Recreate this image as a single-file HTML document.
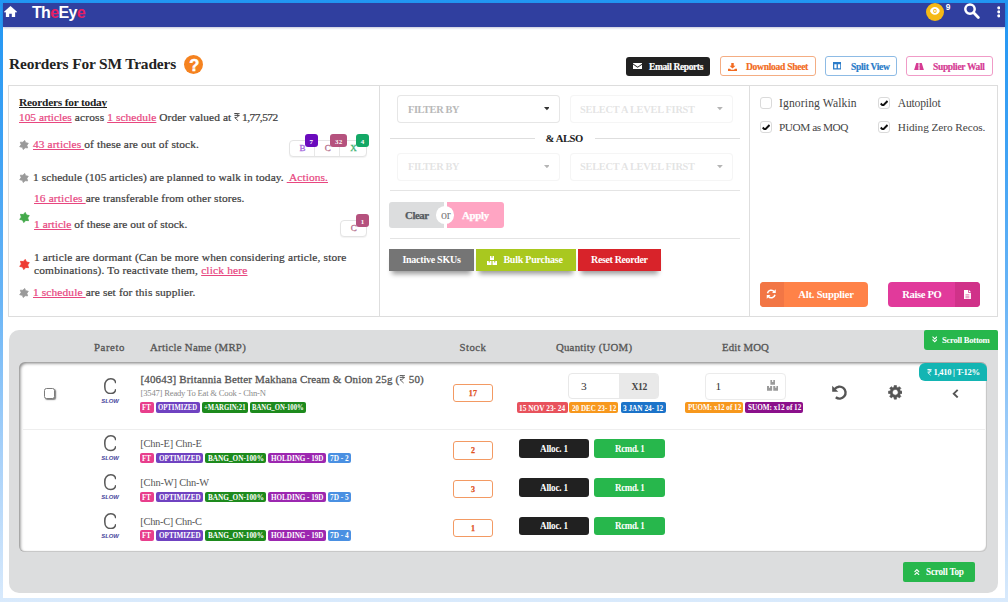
<!DOCTYPE html>
<html><head><meta charset="utf-8"><title>Reorders</title>
<style>
html,body{margin:0;padding:0;}
body{width:1008px;height:602px;overflow:hidden;position:relative;background:linear-gradient(180deg,#2196f3 0%,#3fa2f4 25%,#6ab5f6 50%,#a6d0f9 75%,#d9eafc 100%);font-family:'Liberation Serif', serif;}
#pg{position:absolute;left:3px;top:3px;width:1002px;height:595.5px;background:#fff;overflow:hidden}
#pg>div,#pg>svg{position:absolute;box-sizing:border-box}
.t{position:absolute;white-space:pre;line-height:normal}
.t u{text-decoration:underline;text-decoration-thickness:.9px;text-underline-offset:.6px;text-decoration-skip-ink:none}
.t svg{display:inline-block;position:static}
svg{display:block}
</style></head><body><div id="pg" style="left:0;top:0;width:1008px;height:602px;background:none">
<div style="left:3px;top:3px;width:1002px;height:595px;background:#fff"></div>
<div style="left:3.00px;top:3.00px;width:1002.00px;height:24.00px;background:#303f9f;box-shadow:0 1px 2px rgba(40,50,120,.28)"></div>
<svg style="left:3.80px;top:5.70px;" width="13.00" height="11.80" viewBox="0 0 25 22" preserveAspectRatio="none"><path fill="#fff" d="M12.5 0 L0 10.8 L1.2 12.2 L3.6 11.6 V22 H10 V14.5 H15 V22 H21.4 V11.6 L23.8 12.2 L25 10.8 Z"/></svg>
<div style="left:926.00px;top:2.50px;width:18.40px;height:18.50px;background:#f5b916;border-radius:50%"></div>
<svg style="left:930.20px;top:7.00px;" width="9.80" height="7.80" viewBox="0 0 24 16" preserveAspectRatio="none"><path fill="#fff" d="M12 0C6.5 0 2 3.4 0 8c2 4.6 6.5 8 12 8s10-3.4 12-8C22 3.4 17.5 0 12 0z"/><circle cx="12" cy="8" r="4.3" fill="#f5b916"/><circle cx="12" cy="8" r="2.3" fill="#fff" opacity=".85"/></svg>
<svg style="left:964.30px;top:3.10px;" width="16.00" height="16.00" viewBox="0 0 32 32" preserveAspectRatio="none"><circle cx="12" cy="12.2" r="9.4" fill="none" stroke="#fff" stroke-width="5"/><path d="M19.5 19.7 L28.6 28.8" stroke="#fff" stroke-width="5.6" stroke-linecap="round"/></svg>
<svg style="left:996.60px;top:6.10px;" width="3.60" height="3.60" viewBox="0 0 10 10" preserveAspectRatio="none"><circle cx="5" cy="5" r="4.4" fill="#fff"/></svg>
<svg style="left:996.60px;top:10.10px;" width="3.60" height="3.60" viewBox="0 0 10 10" preserveAspectRatio="none"><circle cx="5" cy="5" r="4.4" fill="#fff"/></svg>
<svg style="left:996.60px;top:14.10px;" width="3.60" height="3.60" viewBox="0 0 10 10" preserveAspectRatio="none"><circle cx="5" cy="5" r="4.4" fill="#fff"/></svg>
<div style="left:184.00px;top:55.00px;width:19.00px;height:19.00px;background:#f5821f;border-radius:50%"></div>
<div style="left:626.00px;top:57.00px;width:84.30px;height:18.60px;background:#212121;border-radius:3px"></div>
<svg style="left:633.00px;top:63.00px;" width="9.20" height="6.30" viewBox="0 0 20 14" preserveAspectRatio="none"><path fill="#fff" d="M0 1.2 V0 H20 V1.2 L10 8.4 Z M0 3.4 L10 10.8 L20 3.4 V14 H0 Z"/></svg>
<div style="left:720.00px;top:56.00px;width:96.00px;height:20.00px;border:1px solid #f4ad83;border-radius:3px;background:#fff"></div>
<svg style="left:727.60px;top:62.50px;" width="9.00" height="8.00" viewBox="0 0 18 16" preserveAspectRatio="none"><path fill="#f26b21" d="M6.5 0 H11.5 V5.5 H15 L9 11.2 L3 5.5 H6.5 Z M0 11.5 H4 L6 13.5 H12 L14 11.5 H18 V16 H0 Z"/></svg>
<div style="left:825.00px;top:56.00px;width:72.00px;height:20.00px;border:1px solid #8dbbe5;border-radius:3px;background:#fff"></div>
<svg style="left:832.80px;top:62.30px;" width="8.50" height="7.60" viewBox="0 0 17 14" preserveAspectRatio="none"><path fill="#2b7cc9" fill-rule="evenodd" d="M0 0 H17 V14 H0 Z M2.6 4 V11.4 H7.2 V4 Z M9.8 4 V11.4 H14.4 V4 Z"/></svg>
<div style="left:906.00px;top:56.00px;width:87.00px;height:20.00px;border:1px solid #f09bc7;border-radius:3px;background:#fff"></div>
<svg style="left:914.00px;top:62.60px;" width="10.00" height="7.40" viewBox="0 0 20 14" preserveAspectRatio="none"><path fill="#d63a93" d="M4.5 0 H8.8 V14 H0 Z M11.2 0 H15.5 L20 14 H11.2 Z"/><path d="M10 0 V3 M10 5.5 V8.5 M10 11 V14" stroke="#d63a93" stroke-width="1.1"/></svg>
<div style="left:8.00px;top:85.00px;width:990.00px;height:232.00px;border:1px solid #dddddd;background:#fff"></div>
<div style="left:379.00px;top:85.00px;width:1.00px;height:231.50px;background:#dedede"></div>
<div style="left:749.00px;top:85.00px;width:1.00px;height:231.50px;background:#dedede"></div>
<svg style="left:234.20px;top:112.60px;" width="6.00" height="8.10" viewBox="0 0 10 13.5" preserveAspectRatio="none"><path d="M0.8 1 H9.4 M0.8 4.3 H9.4 M0.8 1 H3.6 C7.8 1 7.8 7.7 3.6 7.7 H1.2 L7.2 13.3" fill="none" stroke="#3d3d3d" stroke-width="1.5"/></svg>
<svg style="left:18.50px;top:139.50px;" width="10.00" height="10.00" viewBox="0 0 24 24" preserveAspectRatio="none"><path d="M13.56 0.91 L16.31 6.48 L22.38 7.80 L18.93 12.97 L20.83 18.90 L14.62 18.49 L10.44 23.09 L7.69 17.52 L1.62 16.20 L5.07 11.03 L3.17 5.10 L9.38 5.51 Z" fill="#9a9a9a" stroke="#9a9a9a" stroke-width="1.8" stroke-linejoin="round"/></svg>
<svg style="left:18.50px;top:172.50px;" width="10.00" height="10.00" viewBox="0 0 24 24" preserveAspectRatio="none"><path d="M13.56 0.91 L16.31 6.48 L22.38 7.80 L18.93 12.97 L20.83 18.90 L14.62 18.49 L10.44 23.09 L7.69 17.52 L1.62 16.20 L5.07 11.03 L3.17 5.10 L9.38 5.51 Z" fill="#9a9a9a" stroke="#9a9a9a" stroke-width="1.8" stroke-linejoin="round"/></svg>
<svg style="left:18.50px;top:211.50px;" width="11.00" height="11.00" viewBox="0 0 24 24" preserveAspectRatio="none"><path d="M13.56 0.91 L16.31 6.48 L22.38 7.80 L18.93 12.97 L20.83 18.90 L14.62 18.49 L10.44 23.09 L7.69 17.52 L1.62 16.20 L5.07 11.03 L3.17 5.10 L9.38 5.51 Z" fill="#43a94a" stroke="#43a94a" stroke-width="1.8" stroke-linejoin="round"/></svg>
<svg style="left:18.50px;top:258.50px;" width="11.00" height="11.00" viewBox="0 0 24 24" preserveAspectRatio="none"><path d="M13.56 0.91 L16.31 6.48 L22.38 7.80 L18.93 12.97 L20.83 18.90 L14.62 18.49 L10.44 23.09 L7.69 17.52 L1.62 16.20 L5.07 11.03 L3.17 5.10 L9.38 5.51 Z" fill="#ee3b33" stroke="#ee3b33" stroke-width="1.8" stroke-linejoin="round"/></svg>
<svg style="left:18.50px;top:287.50px;" width="10.00" height="10.00" viewBox="0 0 24 24" preserveAspectRatio="none"><path d="M13.56 0.91 L16.31 6.48 L22.38 7.80 L18.93 12.97 L20.83 18.90 L14.62 18.49 L10.44 23.09 L7.69 17.52 L1.62 16.20 L5.07 11.03 L3.17 5.10 L9.38 5.51 Z" fill="#9a9a9a" stroke="#9a9a9a" stroke-width="1.8" stroke-linejoin="round"/></svg>
<div style="left:289.00px;top:140.00px;width:78.00px;height:17.00px;border:1px solid #e4e4e4;border-radius:4px;background:#fff;box-shadow:0 1px 1px rgba(0,0,0,.05)"></div>
<div style="left:314.00px;top:141.00px;width:1.00px;height:15.00px;background:#e8e8e8"></div>
<div style="left:339.00px;top:141.00px;width:1.00px;height:15.00px;background:#e8e8e8"></div>
<div style="left:305.00px;top:134.00px;width:13.00px;height:13.00px;background:#6a0bbd;border-radius:3px"></div>
<div style="left:330.00px;top:134.00px;width:17.00px;height:13.00px;background:#b5527e;border-radius:3px"></div>
<div style="left:356.00px;top:134.00px;width:13.00px;height:13.00px;background:#14a866;border-radius:3px"></div>
<div style="left:340.00px;top:220.00px;width:27.00px;height:17.00px;border:1px solid #e4e4e4;border-radius:4px;background:#fff;box-shadow:0 1px 1px rgba(0,0,0,.05)"></div>
<div style="left:356.00px;top:214.00px;width:13.00px;height:13.00px;background:#b5527e;border-radius:3px"></div>
<div style="left:397.00px;top:95.00px;width:162.50px;height:27.60px;border:1px solid rgba(34,36,38,0.115);border-radius:4px;background:#fff"></div>
<svg style="left:543.50px;top:107.40px;" width="5.80" height="3.20" viewBox="0 0 10 5.5" preserveAspectRatio="none"><path d="M0 0 H10 L5 5.5 Z" fill="#333"/></svg>
<div style="left:570.00px;top:95.00px;width:162.80px;height:27.60px;border:1px solid rgba(34,36,38,0.046);border-radius:4px;background:#fff"></div>
<svg style="left:716.80px;top:107.40px;" width="5.80" height="3.20" viewBox="0 0 10 5.5" preserveAspectRatio="none"><path d="M0 0 H10 L5 5.5 Z" fill="#b5b5b5"/></svg>
<div style="left:397.00px;top:153.00px;width:162.50px;height:27.60px;border:1px solid rgba(34,36,38,0.046);border-radius:4px;background:#fff"></div>
<svg style="left:543.50px;top:164.60px;" width="5.80" height="3.20" viewBox="0 0 10 5.5" preserveAspectRatio="none"><path d="M0 0 H10 L5 5.5 Z" fill="#b5b5b5"/></svg>
<div style="left:570.00px;top:153.00px;width:162.80px;height:27.60px;border:1px solid rgba(34,36,38,0.046);border-radius:4px;background:#fff"></div>
<svg style="left:716.80px;top:164.60px;" width="5.80" height="3.20" viewBox="0 0 10 5.5" preserveAspectRatio="none"><path d="M0 0 H10 L5 5.5 Z" fill="#b5b5b5"/></svg>
<div style="left:389.50px;top:138.00px;width:145.50px;height:1.00px;background:#dedede"></div>
<div style="left:594.50px;top:138.00px;width:145.50px;height:1.00px;background:#dedede"></div>
<div style="left:389.50px;top:190.30px;width:350.50px;height:1.00px;background:#e4e4e4"></div>
<div style="left:389.50px;top:238.00px;width:350.50px;height:1.00px;background:#e4e4e4"></div>
<div style="left:389.00px;top:202.00px;width:56.00px;height:26.00px;background:#dcddde;border-radius:3px 0 0 3px"></div>
<div style="left:445.00px;top:202.00px;width:59.00px;height:26.00px;background:#ffa5c3;border-radius:0 3px 3px 0"></div>
<div style="left:444.30px;top:202.00px;width:2.60px;height:26.00px;background:#fff"></div>
<div style="left:436.40px;top:206.30px;width:17.70px;height:17.50px;background:#fff;border-radius:50%"></div>
<div style="left:389.00px;top:249.00px;width:84.70px;height:21.70px;background:#757575;box-shadow:0 6px 5px -3px rgba(0,0,0,.4)"></div>
<div style="left:476.00px;top:249.00px;width:100.00px;height:21.70px;background:#a9c81f;box-shadow:0 6px 5px -3px rgba(0,0,0,.4)"></div>
<svg style="left:487.00px;top:255.50px;" width="10.00" height="9.00" viewBox="0 0 20 18" preserveAspectRatio="none"><path fill="#fff" d="M6 0 H14 V8 H6 Z M0 10 H9 V18 H0 Z M11 10 H20 V18 H11 Z"/><path d="M10 0 V3.5 M4.5 10 V13 M15.5 10 V13" stroke="#a9c81f" stroke-width="2"/></svg>
<div style="left:578.20px;top:249.00px;width:82.80px;height:21.70px;background:#d8232a;box-shadow:0 6px 5px -3px rgba(0,0,0,.4)"></div>
<div style="left:759.80px;top:97.00px;width:11.80px;height:11.80px;border:1px solid #dadada;border-radius:3px;background:#fff"></div>
<div style="left:878.30px;top:97.00px;width:11.80px;height:11.80px;border:1px solid #dadada;border-radius:3px;background:#fff"></div>
<svg style="left:880.20px;top:99.50px;" width="8.20" height="6.80" viewBox="0 0 14 11" preserveAspectRatio="none"><path d="M1.2 5.6 L5 9.2 L12.8 1.6" fill="none" stroke="#111" stroke-width="3.3"/></svg>
<div style="left:759.80px;top:121.00px;width:11.80px;height:11.80px;border:1px solid #dadada;border-radius:3px;background:#fff"></div>
<svg style="left:761.70px;top:123.50px;" width="8.20" height="6.80" viewBox="0 0 14 11" preserveAspectRatio="none"><path d="M1.2 5.6 L5 9.2 L12.8 1.6" fill="none" stroke="#111" stroke-width="3.3"/></svg>
<div style="left:878.30px;top:121.00px;width:11.80px;height:11.80px;border:1px solid #dadada;border-radius:3px;background:#fff"></div>
<svg style="left:880.20px;top:123.50px;" width="8.20" height="6.80" viewBox="0 0 14 11" preserveAspectRatio="none"><path d="M1.2 5.6 L5 9.2 L12.8 1.6" fill="none" stroke="#111" stroke-width="3.3"/></svg>
<div style="left:760.00px;top:282.40px;width:108.00px;height:24.20px;background:#ff8248;border-radius:4px"></div>
<div style="left:760.00px;top:282.40px;width:24.00px;height:24.20px;background:#f27645;border-radius:4px 0 0 4px"></div>
<svg style="left:766.30px;top:289.10px;" width="10.50" height="10.00" viewBox="0 0 21 20" preserveAspectRatio="none"><path fill="none" stroke="#fff" stroke-width="3" d="M3 8.5 A7.5 7.5 0 0 1 16.5 5.5 M18 11.5 A7.5 7.5 0 0 1 4.5 14.5"/><path fill="#fff" d="M19.5 0.5 V8 H12 Z M1.5 19.5 V12 H9 Z"/></svg>
<div style="left:888.00px;top:282.40px;width:91.60px;height:24.20px;background:#e13a9b;border-radius:4px"></div>
<div style="left:955.00px;top:282.40px;width:24.60px;height:24.20px;background:#d03289;border-radius:0 4px 4px 0"></div>
<svg style="left:963.80px;top:289.50px;" width="6.90" height="9.50" viewBox="0 0 14 19" preserveAspectRatio="none"><path fill="#fff" d="M0 0 H8.5 V5.5 H14 V19 H0 Z M10 0 L14 4 H10 Z"/><path d="M3 9.5 H11 M3 12.5 H11 M3 15.5 H11" stroke="#d03289" stroke-width="1.2"/></svg>
<div style="left:9.00px;top:330.00px;width:989.00px;height:262.70px;background:#dcddde;border-radius:10px"></div>
<div style="left:924.00px;top:330.00px;width:74.00px;height:20.00px;background:#27b74c;border-radius:2px 2px 0 3px"></div>
<svg style="left:931.50px;top:336.30px;" width="5.50" height="6.40" viewBox="0 0 10 10.2" preserveAspectRatio="none"><path d="M1 1 L5 4.6 L9 1 M1 5.6 L5 9.2 L9 5.6" fill="none" stroke="#fff" stroke-width="1.9"/></svg>
<div style="left:19.00px;top:362.30px;width:967.60px;height:189.40px;background:#fff;border-radius:6px;box-shadow:inset 1.5px 1.5px 3px rgba(0,0,0,.45), inset -1px -1px 1px rgba(0,0,0,.2)"></div>
<div style="left:23.00px;top:429.00px;width:962.00px;height:1.00px;background:#eeeeee"></div>
<div style="left:919.20px;top:363.00px;width:67.80px;height:18.00px;background:#13b5b3;border-radius:6px 6px 0 6px"></div>
<div style="left:44.00px;top:388.00px;width:11.20px;height:10.80px;border:1.3px solid #7c7c7c;border-radius:2.5px;background:#fff;box-shadow:1.1px 1.1px 1.2px rgba(0,0,0,.5)"></div>
<svg style="left:103.70px;top:378.00px;" width="12.60" height="16.40" viewBox="0 0 12.6 16.4" preserveAspectRatio="none"><path d="M11.75 5.2 C11.4 2.4 9.4 0.8 6.7 0.8 C3 0.8 0.8 3.6 0.8 7.4 L0.8 9 C0.8 12.8 3 15.6 6.7 15.6 C9.4 15.6 11.4 14 11.75 11.2" fill="none" stroke="#5a5a5a" stroke-width="1.55"/></svg>
<svg style="left:103.70px;top:435.30px;" width="12.60" height="16.40" viewBox="0 0 12.6 16.4" preserveAspectRatio="none"><path d="M11.75 5.2 C11.4 2.4 9.4 0.8 6.7 0.8 C3 0.8 0.8 3.6 0.8 7.4 L0.8 9 C0.8 12.8 3 15.6 6.7 15.6 C9.4 15.6 11.4 14 11.75 11.2" fill="none" stroke="#5a5a5a" stroke-width="1.55"/></svg>
<svg style="left:103.70px;top:474.20px;" width="12.60" height="16.40" viewBox="0 0 12.6 16.4" preserveAspectRatio="none"><path d="M11.75 5.2 C11.4 2.4 9.4 0.8 6.7 0.8 C3 0.8 0.8 3.6 0.8 7.4 L0.8 9 C0.8 12.8 3 15.6 6.7 15.6 C9.4 15.6 11.4 14 11.75 11.2" fill="none" stroke="#5a5a5a" stroke-width="1.55"/></svg>
<svg style="left:103.70px;top:513.10px;" width="12.60" height="16.40" viewBox="0 0 12.6 16.4" preserveAspectRatio="none"><path d="M11.75 5.2 C11.4 2.4 9.4 0.8 6.7 0.8 C3 0.8 0.8 3.6 0.8 7.4 L0.8 9 C0.8 12.8 3 15.6 6.7 15.6 C9.4 15.6 11.4 14 11.75 11.2" fill="none" stroke="#5a5a5a" stroke-width="1.55"/></svg>
<div style="left:140.00px;top:402.30px;width:13.70px;height:10.70px;background:#e83e8c;border-radius:2px"></div>
<div style="left:155.70px;top:402.30px;width:44.00px;height:10.70px;background:#6f42c1;border-radius:2px"></div>
<div style="left:201.60px;top:402.30px;width:46.40px;height:10.70px;background:#1d8a1d;border-radius:2px"></div>
<div style="left:249.90px;top:402.30px;width:56.50px;height:10.70px;background:#1d8a1d;border-radius:2px"></div>
<div style="left:452.60px;top:384.20px;width:40.80px;height:18.10px;border:1px solid #f39a63;border-radius:3px;background:#fff"></div>
<div style="left:568.00px;top:373.00px;width:91.00px;height:26.00px;border:1px solid #e8e8e8;border-radius:4px;background:#fff"></div>
<div style="left:619.00px;top:373.60px;width:39.40px;height:24.80px;background:#e9e9e9;border-radius:0 2px 2px 0"></div>
<div style="left:517.00px;top:402.30px;width:51.00px;height:11.00px;background:#e8525c;border-radius:2px"></div>
<div style="left:569.30px;top:402.30px;width:49.00px;height:11.00px;background:#f7981d;border-radius:2px"></div>
<div style="left:620.70px;top:402.30px;width:45.00px;height:11.00px;background:#1b73c9;border-radius:2px"></div>
<div style="left:705.00px;top:372.50px;width:80.50px;height:27.00px;border:1px solid #ebebeb;border-radius:4px;background:#fff"></div>
<svg style="left:766.60px;top:380.30px;" width="11.40" height="10.70" viewBox="0 0 20 18" preserveAspectRatio="none"><path fill="#9a9a9a" d="M6 0 H14 V8 H6 Z M0 10 H9 V18 H0 Z M11 10 H20 V18 H11 Z"/><path d="M10 0 V3.5 M4.5 10 V13 M15.5 10 V13" stroke="#fff" stroke-width="2"/></svg>
<div style="left:685.20px;top:402.40px;width:58.00px;height:10.70px;background:#f7981d;border-radius:2px"></div>
<div style="left:745.20px;top:402.40px;width:58.10px;height:10.70px;background:#8b108b;border-radius:2px"></div>
<svg style="left:830.00px;top:383.00px;" width="20.00" height="20.00" viewBox="830 383 20 20" preserveAspectRatio="none"><path fill="none" stroke="#555" stroke-width="2.4" d="M834.8 389 A6 6 0 1 1 835.8 397.3"/><path fill="#555" d="M832.2 385.7 V391.8 H838.3 Z"/></svg>
<svg style="left:887.60px;top:385.10px;" width="14.60" height="14.60" viewBox="-0.6 -0.6 25.2 25.2" preserveAspectRatio="none"><path fill="#555" stroke="#555" stroke-width="1" stroke-linejoin="round" fill-rule="evenodd" d="M9.67 3.31 L10.02 0.16 L13.98 0.16 L14.33 3.31 L16.50 4.21 L18.97 2.23 L21.77 5.03 L19.79 7.50 L20.69 9.67 L23.84 10.02 L23.84 13.98 L20.69 14.33 L19.79 16.50 L21.77 18.97 L18.97 21.77 L16.50 19.79 L14.33 20.69 L13.98 23.84 L10.02 23.84 L9.67 20.69 L7.50 19.79 L5.03 21.77 L2.23 18.97 L4.21 16.50 L3.31 14.33 L0.16 13.98 L0.16 10.02 L3.31 9.67 L4.21 7.50 L2.23 5.03 L5.03 2.23 L7.50 4.21 Z M12 7.1 a4.9 4.9 0 1 0 0.01 0 Z"/></svg>
<svg style="left:951.50px;top:388.50px;" width="7.00" height="9.30" viewBox="0 0 8 11" preserveAspectRatio="none"><path d="M6.5 1 L2 5.5 L6.5 10" fill="none" stroke="#555" stroke-width="2.2"/></svg>
<div style="left:140.00px;top:452.60px;width:13.80px;height:10.80px;background:#e83e8c;border-radius:2px"></div>
<div style="left:156.40px;top:452.60px;width:46.40px;height:10.80px;background:#6f42c1;border-radius:2px"></div>
<div style="left:205.40px;top:452.60px;width:60.70px;height:10.80px;background:#1d8a1d;border-radius:2px"></div>
<div style="left:268.40px;top:452.60px;width:57.30px;height:10.80px;background:#9c27b0;border-radius:2px"></div>
<div style="left:327.90px;top:452.60px;width:23.40px;height:10.80px;background:#4a90e2;border-radius:2px"></div>
<div style="left:452.60px;top:441.20px;width:40.80px;height:18.40px;border:1px solid #f39a63;border-radius:3px;background:#fff"></div>
<div style="left:519.00px;top:438.80px;width:70.40px;height:18.90px;background:#212121;border-radius:3px"></div>
<div style="left:593.80px;top:438.80px;width:70.80px;height:18.90px;background:#27b74c;border-radius:3px"></div>
<div style="left:140.00px;top:491.50px;width:13.80px;height:10.80px;background:#e83e8c;border-radius:2px"></div>
<div style="left:156.40px;top:491.50px;width:46.40px;height:10.80px;background:#6f42c1;border-radius:2px"></div>
<div style="left:205.40px;top:491.50px;width:60.70px;height:10.80px;background:#1d8a1d;border-radius:2px"></div>
<div style="left:268.40px;top:491.50px;width:57.30px;height:10.80px;background:#9c27b0;border-radius:2px"></div>
<div style="left:327.90px;top:491.50px;width:23.40px;height:10.80px;background:#4a90e2;border-radius:2px"></div>
<div style="left:452.60px;top:480.10px;width:40.80px;height:18.40px;border:1px solid #f39a63;border-radius:3px;background:#fff"></div>
<div style="left:519.00px;top:477.70px;width:70.40px;height:18.90px;background:#212121;border-radius:3px"></div>
<div style="left:593.80px;top:477.70px;width:70.80px;height:18.90px;background:#27b74c;border-radius:3px"></div>
<div style="left:140.00px;top:530.40px;width:13.80px;height:10.80px;background:#e83e8c;border-radius:2px"></div>
<div style="left:156.40px;top:530.40px;width:46.40px;height:10.80px;background:#6f42c1;border-radius:2px"></div>
<div style="left:205.40px;top:530.40px;width:60.70px;height:10.80px;background:#1d8a1d;border-radius:2px"></div>
<div style="left:268.40px;top:530.40px;width:57.30px;height:10.80px;background:#9c27b0;border-radius:2px"></div>
<div style="left:327.90px;top:530.40px;width:23.40px;height:10.80px;background:#4a90e2;border-radius:2px"></div>
<div style="left:452.60px;top:519.00px;width:40.80px;height:18.40px;border:1px solid #f39a63;border-radius:3px;background:#fff"></div>
<div style="left:519.00px;top:516.60px;width:70.40px;height:18.90px;background:#212121;border-radius:3px"></div>
<div style="left:593.80px;top:516.60px;width:70.80px;height:18.90px;background:#27b74c;border-radius:3px"></div>
<div style="left:902.80px;top:561.70px;width:72.20px;height:20.50px;background:#27b74c;border-radius:2px"></div>
<svg style="left:914.30px;top:568.50px;" width="5.70" height="6.50" viewBox="0 0 10 10.2" preserveAspectRatio="none"><path d="M1 4.6 L5 1 L9 4.6 M1 9.2 L5 5.6 L9 9.2" fill="none" stroke="#fff" stroke-width="1.9"/></svg>
<span class="t" style="left:32.00px;top:4.00px;font:bold 16px 'Liberation Sans', sans-serif;letter-spacing:-0.656px;color:#fff;">Th<span style="color:#e91e63">e</span>Ey<span style="color:#e91e63">e</span></span>
<span class="t" style="left:945.80px;top:2.20px;font:bold 8.4px 'Liberation Sans', sans-serif;letter-spacing:0.128px;color:#fff;">9</span>
<span class="t" style="left:9.00px;top:55.00px;font:bold 15.4px 'Liberation Serif', serif;letter-spacing:-0.154px;color:#222;">Reorders For SM Traders</span>
<span class="t" style="left:189.30px;top:55.60px;font:bold 16.5px 'Liberation Sans', sans-serif;letter-spacing:-1.394px;color:#fff;-webkit-text-stroke:.5px #fff">?</span>
<span class="t" style="left:649.30px;top:60.70px;font:bold 10.2px 'Liberation Serif', serif;transform:scaleX(0.9278);transform-origin:0 0;letter-spacing:-0.378px;color:#fff;-webkit-text-stroke:.2px">Email Reports</span>
<span class="t" style="left:746.00px;top:60.70px;font:bold 10.2px 'Liberation Serif', serif;transform:scaleX(0.9398);transform-origin:0 0;letter-spacing:-0.322px;color:#f26b21;-webkit-text-stroke:.2px">Download Sheet</span>
<span class="t" style="left:850.70px;top:60.70px;font:bold 10.2px 'Liberation Serif', serif;transform:scaleX(0.9343);transform-origin:0 0;letter-spacing:-0.312px;color:#2b7cc9;-webkit-text-stroke:.2px">Split View</span>
<span class="t" style="left:933.00px;top:60.70px;font:bold 10.2px 'Liberation Serif', serif;transform:scaleX(0.9304);transform-origin:0 0;letter-spacing:-0.345px;color:#d63a93;-webkit-text-stroke:.2px">Supplier Wall</span>
<span class="t" style="left:19.00px;top:96.00px;font:bold 11.4px 'Liberation Serif', serif;letter-spacing:-0.232px;color:#222;text-decoration:underline;text-underline-offset:.8px;text-decoration-thickness:1px;text-decoration-skip-ink:none">Reorders for today</span>
<span class="t" style="left:19.00px;top:110.50px;font:normal 11.4px 'Liberation Serif', serif;letter-spacing:-0.011px;color:#3d3d3d;;-webkit-text-stroke:.22px"><u style="color:#e8467f">105 articles</u></span>
<span class="t" style="left:74.70px;top:110.50px;font:normal 11.4px 'Liberation Serif', serif;letter-spacing:0.205px;color:#3d3d3d;;-webkit-text-stroke:.22px">across</span>
<span class="t" style="left:107.20px;top:110.50px;font:normal 11.4px 'Liberation Serif', serif;letter-spacing:0.079px;color:#3d3d3d;;-webkit-text-stroke:.22px"><u style="color:#e8467f">1 schedule</u></span>
<span class="t" style="left:159.20px;top:110.50px;font:normal 11.4px 'Liberation Serif', serif;letter-spacing:0.090px;color:#3d3d3d;;-webkit-text-stroke:.22px">Order valued at</span>
<span class="t" style="left:242.00px;top:110.50px;font:normal 11.4px 'Liberation Serif', serif;letter-spacing:-0.522px;color:#3d3d3d;;-webkit-text-stroke:.22px">1,77,572</span>
<span class="t" style="left:33.00px;top:137.50px;font:normal 11.4px 'Liberation Serif', serif;letter-spacing:0.106px;color:#3d3d3d;;-webkit-text-stroke:.22px"><u style="color:#e8467f">43 articles </u>of these are out of stock.</span>
<span class="t" style="left:33.00px;top:170.80px;font:normal 11.4px 'Liberation Serif', serif;letter-spacing:0.087px;color:#3d3d3d;;-webkit-text-stroke:.22px">1 schedule (105 articles) are planned to walk in today. <u style="color:#e8467f"> Actions.</u></span>
<span class="t" style="left:34.00px;top:192.00px;font:normal 11.4px 'Liberation Serif', serif;letter-spacing:0.138px;color:#3d3d3d;;-webkit-text-stroke:.22px"><u style="color:#e8467f">16 articles </u>are transferable from other stores.</span>
<span class="t" style="left:34.00px;top:218.00px;font:normal 11.4px 'Liberation Serif', serif;letter-spacing:0.046px;color:#3d3d3d;;-webkit-text-stroke:.22px"><u style="color:#e8467f">1 article</u> of these are out of stock.</span>
<span class="t" style="left:34.00px;top:251.00px;font:normal 11.4px 'Liberation Serif', serif;letter-spacing:0.158px;color:#3d3d3d;;-webkit-text-stroke:.22px">1 article are dormant (Can be more when considering article, store</span>
<span class="t" style="left:34.00px;top:263.80px;font:normal 11.4px 'Liberation Serif', serif;letter-spacing:0.177px;color:#3d3d3d;;-webkit-text-stroke:.22px">combinations). To reactivate them, <u style="color:#e8467f">click here</u></span>
<span class="t" style="left:33.00px;top:286.00px;font:normal 11.4px 'Liberation Serif', serif;letter-spacing:0.125px;color:#3d3d3d;;-webkit-text-stroke:.22px"><u style="color:#e8467f">1 schedule </u>are set for this supplier.</span>
<span class="t" style="left:299.50px;top:143.20px;font:normal 9px 'Liberation Serif', serif;letter-spacing:-1.216px;color:#a367dc;-webkit-text-stroke:.3px">B</span>
<span class="t" style="left:324.80px;top:143.20px;font:normal 9px 'Liberation Serif', serif;letter-spacing:-1.316px;color:#b36a88;-webkit-text-stroke:.3px">C</span>
<span class="t" style="left:350.20px;top:143.20px;font:normal 9px 'Liberation Serif', serif;letter-spacing:-1.100px;color:#3fb473;-webkit-text-stroke:.3px">X</span>
<span class="t" style="left:309.60px;top:137.90px;font:bold 7px 'Liberation Serif', serif;letter-spacing:0.100px;color:#fff;">7</span>
<span class="t" style="left:335.00px;top:137.90px;font:bold 7px 'Liberation Serif', serif;letter-spacing:0.150px;color:#fff;">32</span>
<span class="t" style="left:360.70px;top:137.90px;font:bold 7px 'Liberation Serif', serif;letter-spacing:0.300px;color:#fff;">4</span>
<span class="t" style="left:350.80px;top:223.20px;font:normal 9px 'Liberation Serif', serif;letter-spacing:-1.316px;color:#b36a88;-webkit-text-stroke:.3px">C</span>
<span class="t" style="left:360.80px;top:217.90px;font:bold 7px 'Liberation Serif', serif;letter-spacing:-0.300px;color:#fff;">1</span>
<span class="t" style="left:408.00px;top:104.00px;font:bold 10.4px 'Liberation Serif', serif;letter-spacing:-0.418px;color:rgba(185,185,185,1);">FILTER BY</span>
<span class="t" style="left:580.00px;top:104.00px;font:bold 10.4px 'Liberation Serif', serif;letter-spacing:-0.272px;color:rgba(185,185,185,0.4);">SELECT A LEVEL FIRST</span>
<span class="t" style="left:408.00px;top:161.20px;font:bold 10.4px 'Liberation Serif', serif;letter-spacing:-0.418px;color:rgba(185,185,185,0.4);">FILTER BY</span>
<span class="t" style="left:580.00px;top:161.20px;font:bold 10.4px 'Liberation Serif', serif;letter-spacing:-0.272px;color:rgba(185,185,185,0.4);">SELECT A LEVEL FIRST</span>
<span class="t" style="left:545.50px;top:133.00px;font:bold 10.6px 'Liberation Serif', serif;letter-spacing:-0.375px;color:#222;">&amp; ALSO</span>
<span class="t" style="left:405.00px;top:208.60px;font:bold 10.8px 'Liberation Serif', serif;letter-spacing:-0.416px;color:#555a60;-webkit-text-stroke:.25px">Clear</span>
<span class="t" style="left:440.90px;top:207.60px;font:normal 12px 'Liberation Serif', serif;letter-spacing:-0.200px;color:#777;">or</span>
<span class="t" style="left:462.10px;top:208.60px;font:bold 10.8px 'Liberation Serif', serif;letter-spacing:-0.304px;color:#fff;-webkit-text-stroke:.25px">Apply</span>
<span class="t" style="left:402.40px;top:254.20px;font:bold 10px 'Liberation Serif', serif;letter-spacing:-0.247px;color:#fff;">Inactive SKUs</span>
<span class="t" style="left:503.40px;top:254.20px;font:bold 10px 'Liberation Serif', serif;letter-spacing:-0.234px;color:#fff;">Bulk Purchase</span>
<span class="t" style="left:591.10px;top:254.20px;font:bold 10px 'Liberation Serif', serif;letter-spacing:-0.381px;color:#fff;">Reset Reorder</span>
<span class="t" style="left:779.00px;top:97.00px;font:normal 11.6px 'Liberation Serif', serif;letter-spacing:0.132px;color:#444;">Ignoring Walkin</span>
<span class="t" style="left:897.80px;top:97.00px;font:normal 11.6px 'Liberation Serif', serif;letter-spacing:-0.195px;color:#444;">Autopilot</span>
<span class="t" style="left:779.00px;top:121.30px;font:normal 11.3px 'Liberation Serif', serif;letter-spacing:-0.462px;color:#444;">PUOM as MOQ</span>
<span class="t" style="left:897.80px;top:121.30px;font:normal 11.3px 'Liberation Serif', serif;letter-spacing:-0.072px;color:#444;">Hiding Zero Recos.</span>
<span class="t" style="left:798.30px;top:289.30px;font:bold 10.6px 'Liberation Serif', serif;letter-spacing:-0.214px;color:#fff;">Alt. Supplier</span>
<span class="t" style="left:902.20px;top:289.30px;font:bold 10.6px 'Liberation Serif', serif;letter-spacing:-0.360px;color:#fff;">Raise PO</span>
<span class="t" style="left:94.00px;top:340.80px;font:normal 10.8px 'Liberation Serif', serif;letter-spacing:0.568px;color:#555;-webkit-text-stroke:.3px #555">Pareto</span>
<span class="t" style="left:150.00px;top:340.80px;font:normal 10.8px 'Liberation Serif', serif;letter-spacing:0.269px;color:#555;-webkit-text-stroke:.3px #555">Article Name (MRP)</span>
<span class="t" style="left:459.50px;top:340.80px;font:normal 10.8px 'Liberation Serif', serif;letter-spacing:0.441px;color:#555;-webkit-text-stroke:.3px #555">Stock</span>
<span class="t" style="left:555.90px;top:340.80px;font:normal 10.8px 'Liberation Serif', serif;letter-spacing:0.252px;color:#555;-webkit-text-stroke:.3px #555">Quantity (UOM)</span>
<span class="t" style="left:722.00px;top:340.80px;font:normal 10.8px 'Liberation Serif', serif;letter-spacing:0.139px;color:#555;-webkit-text-stroke:.3px #555">Edit MOQ</span>
<span class="t" style="left:942.20px;top:334.90px;font:bold 9.2px 'Liberation Serif', serif;transform:scaleX(0.9383);transform-origin:0 0;letter-spacing:-0.274px;color:#fff;">Scroll Bottom</span>
<span class="t" style="left:926.50px;top:367.30px;font:bold 8.6px 'Liberation Serif', serif;letter-spacing:-0.311px;color:#fff;"><svg style="width:.6em;height:.74em;vertical-align:-.02em;overflow:visible" viewBox="0 0 10 13.5"><path d="M0.8 1 H9.4 M0.8 4.3 H9.4 M0.8 1 H3.6 C7.8 1 7.8 7.7 3.6 7.7 H1.2 L7.2 13.3" fill="none" stroke="currentColor" stroke-width="1.7"/></svg> 1,410 | T-12%</span>
<span class="t" style="left:101.30px;top:397.60px;font:bold 5.9px 'Liberation Sans', sans-serif;letter-spacing:-0.018px;color:#45459c;font-style:italic">SLOW</span>
<span class="t" style="left:101.30px;top:454.90px;font:bold 5.9px 'Liberation Sans', sans-serif;letter-spacing:-0.018px;color:#45459c;font-style:italic">SLOW</span>
<span class="t" style="left:101.30px;top:493.80px;font:bold 5.9px 'Liberation Sans', sans-serif;letter-spacing:-0.018px;color:#45459c;font-style:italic">SLOW</span>
<span class="t" style="left:101.30px;top:532.70px;font:bold 5.9px 'Liberation Sans', sans-serif;letter-spacing:-0.018px;color:#45459c;font-style:italic">SLOW</span>
<span class="t" style="left:140.50px;top:372.80px;font:normal 11px 'Liberation Serif', serif;letter-spacing:0.147px;color:#555;-webkit-text-stroke:.3px #555">[40643] Britannia Better Makhana Cream &amp; Onion 25g (<svg style="width:.6em;height:.74em;vertical-align:-.02em;overflow:visible" viewBox="0 0 10 13.5"><path d="M0.8 1 H9.4 M0.8 4.3 H9.4 M0.8 1 H3.6 C7.8 1 7.8 7.7 3.6 7.7 H1.2 L7.2 13.3" fill="none" stroke="currentColor" stroke-width="1.5"/></svg> 50)</span>
<span class="t" style="left:140.50px;top:388.30px;font:normal 8.6px 'Liberation Serif', serif;letter-spacing:-0.192px;color:#8a8a8a;">[3547] Ready To Eat &amp; Cook - Chn-N</span>
<span class="t" style="left:142.40px;top:403.20px;font:bold 8px 'Liberation Serif', serif;transform:scaleX(0.8696);transform-origin:0 0;color:#fff;">FT</span>
<span class="t" style="left:158.10px;top:403.20px;font:bold 8px 'Liberation Serif', serif;transform:scaleX(0.8399);transform-origin:0 0;color:#fff;">OPTIMIZED</span>
<span class="t" style="left:204.00px;top:403.20px;font:bold 8px 'Liberation Serif', serif;transform:scaleX(0.8412);transform-origin:0 0;color:#fff;">+MARGIN:21</span>
<span class="t" style="left:252.30px;top:403.20px;font:bold 8px 'Liberation Serif', serif;transform:scaleX(0.8368);transform-origin:0 0;color:#fff;">BANG_ON-100%</span>
<span class="t" style="left:468.80px;top:389.05px;font:bold 8px 'Liberation Serif', serif;letter-spacing:0.200px;color:#e0521f;-webkit-text-stroke:.25px">17</span>
<span class="t" style="left:581.00px;top:379.60px;font:normal 11.4px 'Liberation Serif', serif;letter-spacing:-0.103px;color:#333;">3</span>
<span class="t" style="left:631.40px;top:380.50px;font:bold 9.6px 'Liberation Serif', serif;letter-spacing:-0.310px;color:#444;">X12</span>
<span class="t" style="left:519.40px;top:403.50px;font:bold 8px 'Liberation Serif', serif;transform:scaleX(0.9185);transform-origin:0 0;color:#fff;">15 NOV 23- 24</span>
<span class="t" style="left:571.70px;top:403.50px;font:bold 8px 'Liberation Serif', serif;transform:scaleX(0.8918);transform-origin:0 0;color:#fff;">20 DEC 23- 12</span>
<span class="t" style="left:623.10px;top:403.50px;font:bold 8px 'Liberation Serif', serif;transform:scaleX(0.9091);transform-origin:0 0;color:#fff;">3 JAN 24- 12</span>
<span class="t" style="left:715.60px;top:379.60px;font:normal 11.4px 'Liberation Serif', serif;letter-spacing:-1.303px;color:#333;">1</span>
<span class="t" style="left:687.60px;top:403.30px;font:bold 8px 'Liberation Serif', serif;transform:scaleX(0.8901);transform-origin:0 0;color:#fff;">PUOM: x12 of 12</span>
<span class="t" style="left:747.60px;top:403.30px;font:bold 8px 'Liberation Serif', serif;transform:scaleX(0.8984);transform-origin:0 0;color:#fff;">SUOM: x12 of 12</span>
<span class="t" style="left:140.30px;top:437.90px;font:normal 10.4px 'Liberation Serif', serif;letter-spacing:-0.183px;color:#555;">[Chn-E] Chn-E</span>
<span class="t" style="left:142.40px;top:453.60px;font:bold 8px 'Liberation Serif', serif;transform:scaleX(0.8794);transform-origin:0 0;color:#fff;">FT</span>
<span class="t" style="left:158.80px;top:453.60px;font:bold 8px 'Liberation Serif', serif;transform:scaleX(0.8913);transform-origin:0 0;color:#fff;">OPTIMIZED</span>
<span class="t" style="left:207.80px;top:453.60px;font:bold 8px 'Liberation Serif', serif;transform:scaleX(0.9048);transform-origin:0 0;color:#fff;">BANG_ON-100%</span>
<span class="t" style="left:270.80px;top:453.60px;font:bold 8px 'Liberation Serif', serif;transform:scaleX(0.8879);transform-origin:0 0;color:#fff;">HOLDING - 19D</span>
<span class="t" style="left:330.30px;top:453.60px;font:bold 8px 'Liberation Serif', serif;transform:scaleX(0.9094);transform-origin:0 0;color:#fff;">7D - 2</span>
<span class="t" style="left:470.90px;top:446.20px;font:bold 8px 'Liberation Serif', serif;letter-spacing:0.200px;color:#e0521f;-webkit-text-stroke:.25px">2</span>
<span class="t" style="left:540.40px;top:442.60px;font:bold 9.7px 'Liberation Serif', serif;transform:scaleX(0.9452);transform-origin:0 0;letter-spacing:-0.226px;color:#fff;">Alloc. 1</span>
<span class="t" style="left:614.60px;top:442.60px;font:bold 9.7px 'Liberation Serif', serif;transform:scaleX(0.9281);transform-origin:0 0;letter-spacing:-0.381px;color:#fff;">Rcmd. 1</span>
<span class="t" style="left:140.30px;top:476.80px;font:normal 10.4px 'Liberation Serif', serif;letter-spacing:-0.154px;color:#555;">[Chn-W] Chn-W</span>
<span class="t" style="left:142.40px;top:492.50px;font:bold 8px 'Liberation Serif', serif;transform:scaleX(0.8794);transform-origin:0 0;color:#fff;">FT</span>
<span class="t" style="left:158.80px;top:492.50px;font:bold 8px 'Liberation Serif', serif;transform:scaleX(0.8913);transform-origin:0 0;color:#fff;">OPTIMIZED</span>
<span class="t" style="left:207.80px;top:492.50px;font:bold 8px 'Liberation Serif', serif;transform:scaleX(0.9048);transform-origin:0 0;color:#fff;">BANG_ON-100%</span>
<span class="t" style="left:270.80px;top:492.50px;font:bold 8px 'Liberation Serif', serif;transform:scaleX(0.8879);transform-origin:0 0;color:#fff;">HOLDING - 19D</span>
<span class="t" style="left:330.30px;top:492.50px;font:bold 8px 'Liberation Serif', serif;transform:scaleX(0.9094);transform-origin:0 0;color:#fff;">7D - 5</span>
<span class="t" style="left:470.90px;top:485.10px;font:bold 8px 'Liberation Serif', serif;letter-spacing:0.200px;color:#e0521f;-webkit-text-stroke:.25px">3</span>
<span class="t" style="left:540.40px;top:481.50px;font:bold 9.7px 'Liberation Serif', serif;transform:scaleX(0.9452);transform-origin:0 0;letter-spacing:-0.226px;color:#fff;">Alloc. 1</span>
<span class="t" style="left:614.60px;top:481.50px;font:bold 9.7px 'Liberation Serif', serif;transform:scaleX(0.9281);transform-origin:0 0;letter-spacing:-0.381px;color:#fff;">Rcmd. 1</span>
<span class="t" style="left:140.30px;top:515.70px;font:normal 10.4px 'Liberation Serif', serif;letter-spacing:-0.273px;color:#555;">[Chn-C] Chn-C</span>
<span class="t" style="left:142.40px;top:531.40px;font:bold 8px 'Liberation Serif', serif;transform:scaleX(0.8794);transform-origin:0 0;color:#fff;">FT</span>
<span class="t" style="left:158.80px;top:531.40px;font:bold 8px 'Liberation Serif', serif;transform:scaleX(0.8913);transform-origin:0 0;color:#fff;">OPTIMIZED</span>
<span class="t" style="left:207.80px;top:531.40px;font:bold 8px 'Liberation Serif', serif;transform:scaleX(0.9048);transform-origin:0 0;color:#fff;">BANG_ON-100%</span>
<span class="t" style="left:270.80px;top:531.40px;font:bold 8px 'Liberation Serif', serif;transform:scaleX(0.8879);transform-origin:0 0;color:#fff;">HOLDING - 19D</span>
<span class="t" style="left:330.30px;top:531.40px;font:bold 8px 'Liberation Serif', serif;transform:scaleX(0.9094);transform-origin:0 0;color:#fff;">7D - 4</span>
<span class="t" style="left:470.90px;top:524.00px;font:bold 8px 'Liberation Serif', serif;letter-spacing:0.200px;color:#e0521f;-webkit-text-stroke:.25px">1</span>
<span class="t" style="left:540.40px;top:520.40px;font:bold 9.7px 'Liberation Serif', serif;transform:scaleX(0.9452);transform-origin:0 0;letter-spacing:-0.226px;color:#fff;">Alloc. 1</span>
<span class="t" style="left:614.60px;top:520.40px;font:bold 9.7px 'Liberation Serif', serif;transform:scaleX(0.9281);transform-origin:0 0;letter-spacing:-0.381px;color:#fff;">Rcmd. 1</span>
<span class="t" style="left:925.70px;top:566.10px;font:bold 9.6px 'Liberation Serif', serif;transform:scaleX(0.9522);transform-origin:0 0;letter-spacing:-0.209px;color:#fff;">Scroll Top</span>
</div></body></html>
